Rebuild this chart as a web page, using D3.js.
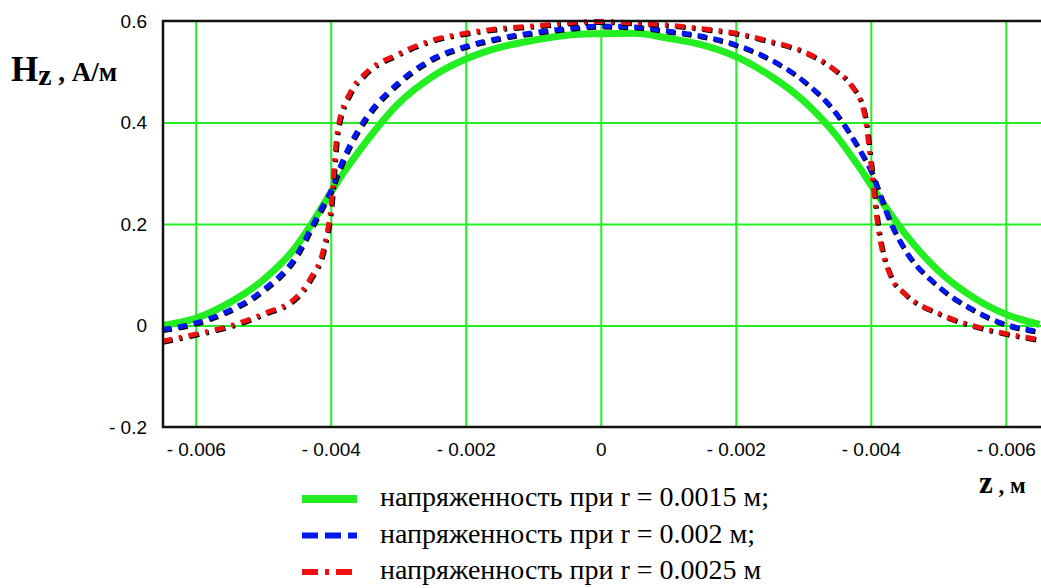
<!DOCTYPE html>
<html>
<head>
<meta charset="utf-8">
<script src="https://cdn.jsdelivr.net/npm/d3@7"></script>
<style>
  body { margin: 0; background: #fff; }
  svg { display: block; }
</style>
</head>
<body>
<svg id="chart" width="1041" height="588"></svg>
<script>
// z coordinate, m
const zGrid = [-0.0065, -0.006, -0.0055, -0.005, -0.0045, -0.0043, -0.0041, -0.004, -0.0039, -0.0037, -0.0035,
  -0.003, -0.0025, -0.002, -0.0015, -0.001, -0.0005, 0, 0.0005, 0.001, 0.0015, 0.002, 0.0025, 0.003,
  0.0035, 0.0037, 0.0039, 0.004, 0.0041, 0.0043, 0.0045, 0.005, 0.0055, 0.006, 0.0065];

// Hz, A/m
const hzR15 = [0.0, 0.014, 0.045, 0.09, 0.158, 0.197, 0.24, 0.262, 0.283, 0.322, 0.358,
  0.437, 0.49, 0.525, 0.548, 0.562, 0.572, 0.575, 0.576, 0.566, 0.553, 0.53, 0.493, 0.443,
  0.372, 0.336, 0.298, 0.277, 0.257, 0.218, 0.182, 0.108, 0.057, 0.022, 0.002];
const hzR20 = [-0.008, 0.005, 0.03, 0.07, 0.14, 0.19, 0.24, 0.265, 0.3, 0.36, 0.405,
  0.478, 0.525, 0.55, 0.566, 0.577, 0.585, 0.59, 0.588, 0.58, 0.57, 0.553, 0.525, 0.482,
  0.415, 0.375, 0.33, 0.305, 0.27, 0.2, 0.15, 0.077, 0.032, 0.002, -0.012];
const hzR25 = [-0.031, -0.017, -0.001, 0.023, 0.057, 0.093, 0.155, 0.23, 0.385, 0.462, 0.495,
  0.535, 0.562, 0.576, 0.585, 0.59, 0.596, 0.599, 0.596, 0.592, 0.585, 0.576, 0.56, 0.54,
  0.50, 0.475, 0.42, 0.32, 0.2, 0.095, 0.063, 0.024, 0.0, -0.016, -0.028];

const xTicks = [-0.006, -0.004, -0.002, 0, 0.002, 0.004, 0.006];
const xTickLabels = ["- 0.006", "- 0.004", "- 0.002", "0", "- 0.002", "- 0.004", "- 0.006"];
const yTicks = [0.6, 0.4, 0.2, 0, -0.2];
const yTickLabels = ["0.6", "0.4", "0.2", "0", "- 0.2"];
const legendLabels = ["напряженность при r = 0.0015 м;", "напряженность при r = 0.002 м;", "напряженность при r = 0.0025 м"];

const series = [
  {values: hzR15, color: "#22ee22", width: 7, dash: null, shadow: false},
  {values: hzR20, color: "#0018ee", width: 5, dash: "9,7", shadow: true},
  {values: hzR25, color: "#ee1010", width: 5, dash: "10,7,3,7", shadow: true}
];

const svg = d3.select("#chart");
const plotLeft = 162, plotRight = 1045, plotTop = 21, plotBottom = 427;

const x = d3.scaleLinear().domain([-0.0065, 0.00658]).range([plotLeft, plotRight]);
const y = d3.scaleLinear().domain([-0.2, 0.6]).range([plotBottom, plotTop]);

// grid
svg.append("g")
  .attr("transform", `translate(0,${plotBottom})`)
  .call(d3.axisBottom(x).tickValues(xTicks).tickSize(-(plotBottom - plotTop)).tickFormat(""))
  .call(g => g.select(".domain").remove())
  .call(g => g.selectAll("line").attr("stroke", "#22ee22").attr("stroke-width", 2));
svg.append("g")
  .attr("transform", `translate(${plotLeft},0)`)
  .call(d3.axisLeft(y).tickValues([0.4, 0.2, 0]).tickSize(-(plotRight - plotLeft)).tickFormat(""))
  .call(g => g.select(".domain").remove())
  .call(g => g.selectAll("line").attr("stroke", "#22ee22").attr("stroke-width", 2));

// curves
svg.append("clipPath").attr("id", "plotclip")
  .append("rect").attr("x", plotLeft).attr("y", plotTop - 4)
  .attr("width", plotRight - plotLeft).attr("height", plotBottom - plotTop + 4);

const line = d3.line()
  .x((d, i) => x(zGrid[i]))
  .y(d => y(d))
  .curve(d3.curveMonotoneX);

const plot = svg.append("g").attr("clip-path", "url(#plotclip)");
series.forEach(s => {
  if (s.shadow) {
    plot.append("path")
      .attr("d", line(s.values))
      .attr("fill", "none")
      .attr("stroke", "#000")
      .attr("stroke-width", s.width)
      .attr("stroke-dasharray", s.dash)
      .attr("transform", "translate(1,1)");
  }
  plot.append("path")
    .attr("d", line(s.values))
    .attr("fill", "none")
    .attr("stroke", s.color)
    .attr("stroke-width", s.width)
    .attr("stroke-dasharray", s.dash)
    .attr("stroke-linejoin", "round");
});

// frame
svg.append("path")
  .attr("d", `M${plotRight},${plotTop}H${plotLeft + 1}V${plotBottom}H${plotRight}`)
  .attr("fill", "none")
  .attr("stroke", "#111")
  .attr("stroke-width", 2.5);

// tick labels
svg.append("g")
  .attr("transform", `translate(0,${plotBottom})`)
  .call(d3.axisBottom(x).tickValues(xTicks).tickSize(0).tickPadding(16).tickFormat((d, i) => xTickLabels[i]))
  .call(g => g.select(".domain").remove())
  .call(g => g.selectAll("text").attr("font-family", "Liberation Sans, Arial, sans-serif").attr("font-size", 19).attr("fill", "#000"));
svg.append("g")
  .attr("transform", `translate(${plotLeft},0)`)
  .call(d3.axisLeft(y).tickValues(yTicks).tickSize(0).tickPadding(15).tickFormat((d, i) => yTickLabels[i]))
  .call(g => g.select(".domain").remove())
  .call(g => g.selectAll("text").attr("font-family", "Liberation Sans, Arial, sans-serif").attr("font-size", 19).attr("fill", "#000"));

// axis titles
const yTitle = svg.append("text")
  .attr("x", 11).attr("y", 81)
  .attr("font-family", "Liberation Serif, Times New Roman, serif")
  .attr("font-weight", "bold")
  .attr("fill", "#000");
yTitle.append("tspan").attr("font-size", 35).text("H");
yTitle.append("tspan").attr("font-size", 30).attr("dy", 4).text("z");
yTitle.append("tspan").attr("font-size", 27).attr("dy", -4).text(" , А/м");

const xTitle = svg.append("text")
  .attr("x", 979).attr("y", 493)
  .attr("font-family", "Liberation Serif, Times New Roman, serif")
  .attr("font-weight", "bold")
  .attr("fill", "#000");
xTitle.append("tspan").attr("font-size", 31).text("z");
xTitle.append("tspan").attr("font-size", 23).text(" , м");

// legend
const legend = svg.append("g");
series.forEach((s, i) => {
  const ly = 499 + i * 36.5;
  legend.append("line")
    .attr("x1", 302).attr("x2", 357)
    .attr("y1", ly).attr("y2", ly)
    .attr("stroke", s.color)
    .attr("stroke-width", s.width + 1)
    .attr("stroke-dasharray", s.dash ? (i === 1 ? "16,7" : "16,7,4,7") : null);
  legend.append("text")
    .attr("x", 380).attr("y", ly + 7)
    .attr("font-family", "Liberation Serif, Times New Roman, serif")
    .attr("font-size", 28)
    .attr("fill", "#000")
    .text(legendLabels[i]);
});
</script>
</body>
</html>
